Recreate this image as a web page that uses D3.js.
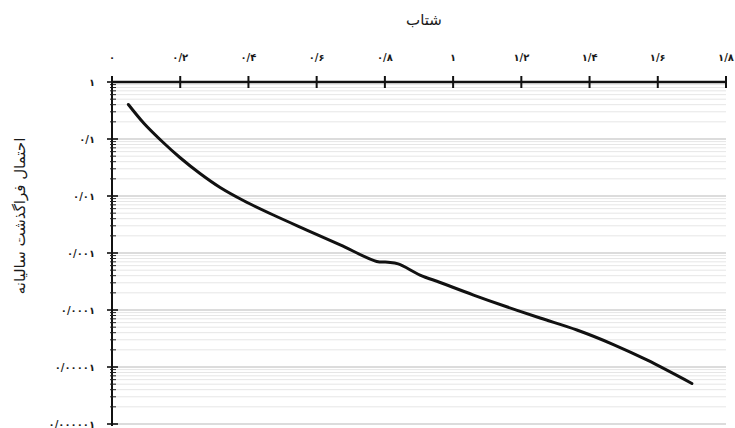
<!DOCTYPE html>
<html>
<head>
<meta charset="utf-8">
<script src="https://cdn.jsdelivr.net/npm/d3@7"></script>
<style>
  html, body { margin: 0; padding: 0; background: #fff; }
  svg { display: block; }
  text { font-family: "DejaVu Sans", "Noto Sans", sans-serif; fill: #1a1a1a; }
</style>
</head>
<body>
<svg id="chart" width="735" height="428"></svg>
<script>
// Hazard curve: peak acceleration vs. annual probability of exceedance
const accel = [0.048, 0.094, 0.147, 0.199, 0.258, 0.317, 0.385, 0.473, 0.571, 0.669,
               0.776, 0.809, 0.839, 0.903, 0.962, 1.060, 1.157, 1.255, 1.363, 1.470,
               1.568, 1.700];
const exceedance = [0.403, 0.187, 0.0904, 0.0474, 0.0248, 0.0141, 0.00834, 0.00464, 0.00253, 0.00139,
                    0.000711, 0.00069, 0.000645, 0.000411, 0.000304, 0.000183, 0.000114, 7.24e-5, 4.46e-5, 2.48e-5,
                    1.33e-5, 5.14e-6];

const xTicks = [0, 0.2, 0.4, 0.6, 0.8, 1, 1.2, 1.4, 1.6, 1.8];
const xTickLabels = ["۰", "۰/۲", "۰/۴", "۰/۶", "۰/۸", "۱", "۱/۲", "۱/۴", "۱/۶", "۱/۸"];
const yTicks = [1, 0.1, 0.01, 0.001, 0.0001, 0.00001, 0.000001];
const yTickLabels = ["۱", "۰/۱", "۰/۰۱", "۰/۰۰۱", "۰/۰۰۰۱", "۰/۰۰۰۰۱", "۰/۰۰۰۰۰۱"];

const xTitle = "شتاب";
const yTitle = "احتمال فراگذشت سالیانه";

const svg = d3.select("#chart");
const plotLeft = 112, plotRight = 726, plotTop = 82, plotBottom = 424;

const x = d3.scaleLinear().domain([0, 1.8]).range([plotLeft, plotRight]);
const y = d3.scaleLog().domain([1, 1e-6]).range([plotTop, plotBottom]);

// Gridlines: minor (2..9 within each decade) then major decades
const allTicks = y.ticks();
const isMajor = v => yTicks.some(t => Math.abs(Math.log10(v) - Math.log10(t)) < 1e-6);
const minorTicks = allTicks.filter(v => !isMajor(v));

svg.append("g").selectAll("line")
  .data(minorTicks)
  .join("line")
  .attr("x1", plotLeft).attr("x2", plotRight)
  .attr("y1", d => y(d)).attr("y2", d => y(d))
  .attr("stroke", "#e6e6e6").attr("stroke-width", 1);

svg.append("g").selectAll("line")
  .data(yTicks.slice(1))
  .join("line")
  .attr("x1", plotLeft).attr("x2", plotRight)
  .attr("y1", d => y(d)).attr("y2", d => y(d))
  .attr("stroke", "#d0d0d0").attr("stroke-width", 1.4);

// Left axis with ticks crossing the line
const yAxis = svg.append("g");
yAxis.append("line")
  .attr("x1", plotLeft).attr("x2", plotLeft)
  .attr("y1", plotTop - 6).attr("y2", plotBottom + 2)
  .attr("stroke", "#111").attr("stroke-width", 2);
yAxis.selectAll("line.minor")
  .data(minorTicks)
  .join("line").attr("class", "minor")
  .attr("x1", plotLeft - 2).attr("x2", plotLeft + 4)
  .attr("y1", d => y(d)).attr("y2", d => y(d))
  .attr("stroke", "#222").attr("stroke-width", 1);
yAxis.selectAll("line.major")
  .data(yTicks)
  .join("line").attr("class", "major")
  .attr("x1", plotLeft - 5).attr("x2", plotLeft + 6)
  .attr("y1", d => y(d)).attr("y2", d => y(d))
  .attr("stroke", "#111").attr("stroke-width", 1.6);
yAxis.selectAll("text")
  .data(yTicks)
  .join("text")
  .attr("x", 95)
  .attr("y", d => y(d))
  .attr("dy", "0.35em")
  .attr("text-anchor", "end")
  .attr("font-size", 10)
  .attr("font-weight", "bold")
  .text((d, i) => yTickLabels[i]);

// Top axis
const xAxis = svg.append("g");
xAxis.append("line")
  .attr("x1", plotLeft).attr("x2", plotRight)
  .attr("y1", plotTop).attr("y2", plotTop)
  .attr("stroke", "#111").attr("stroke-width", 2.6);
xAxis.selectAll("line.tick")
  .data(xTicks)
  .join("line").attr("class", "tick")
  .attr("x1", d => x(d)).attr("x2", d => x(d))
  .attr("y1", plotTop - 6).attr("y2", plotTop + 6)
  .attr("stroke", "#111").attr("stroke-width", 2);
xAxis.selectAll("text")
  .data(xTicks)
  .join("text")
  .attr("x", d => x(d))
  .attr("y", 57)
  .attr("dy", "0.35em")
  .attr("text-anchor", "middle")
  .attr("font-size", 10)
  .attr("font-weight", "bold")
  .text((d, i) => xTickLabels[i]);

// Axis titles
svg.append("text")
  .attr("x", 424).attr("y", 20)
  .attr("dy", "0.35em")
  .attr("text-anchor", "middle")
  .attr("font-size", 15)
  .text(xTitle);

svg.append("text")
  .attr("transform", "translate(20,216) rotate(-90)")
  .attr("dy", "0.35em")
  .attr("text-anchor", "middle")
  .attr("font-size", 15)
  .text(yTitle);

// Hazard curve
const pts = accel.map((a, i) => [a, exceedance[i]]);
svg.append("path")
  .datum(pts)
  .attr("fill", "none")
  .attr("stroke", "#111")
  .attr("stroke-width", 3)
  .attr("stroke-linecap", "round")
  .attr("stroke-linejoin", "round")
  .attr("d", d3.line().x(d => x(d[0])).y(d => y(d[1])).curve(d3.curveCatmullRom.alpha(0.5)));
</script>
</body>
</html>
